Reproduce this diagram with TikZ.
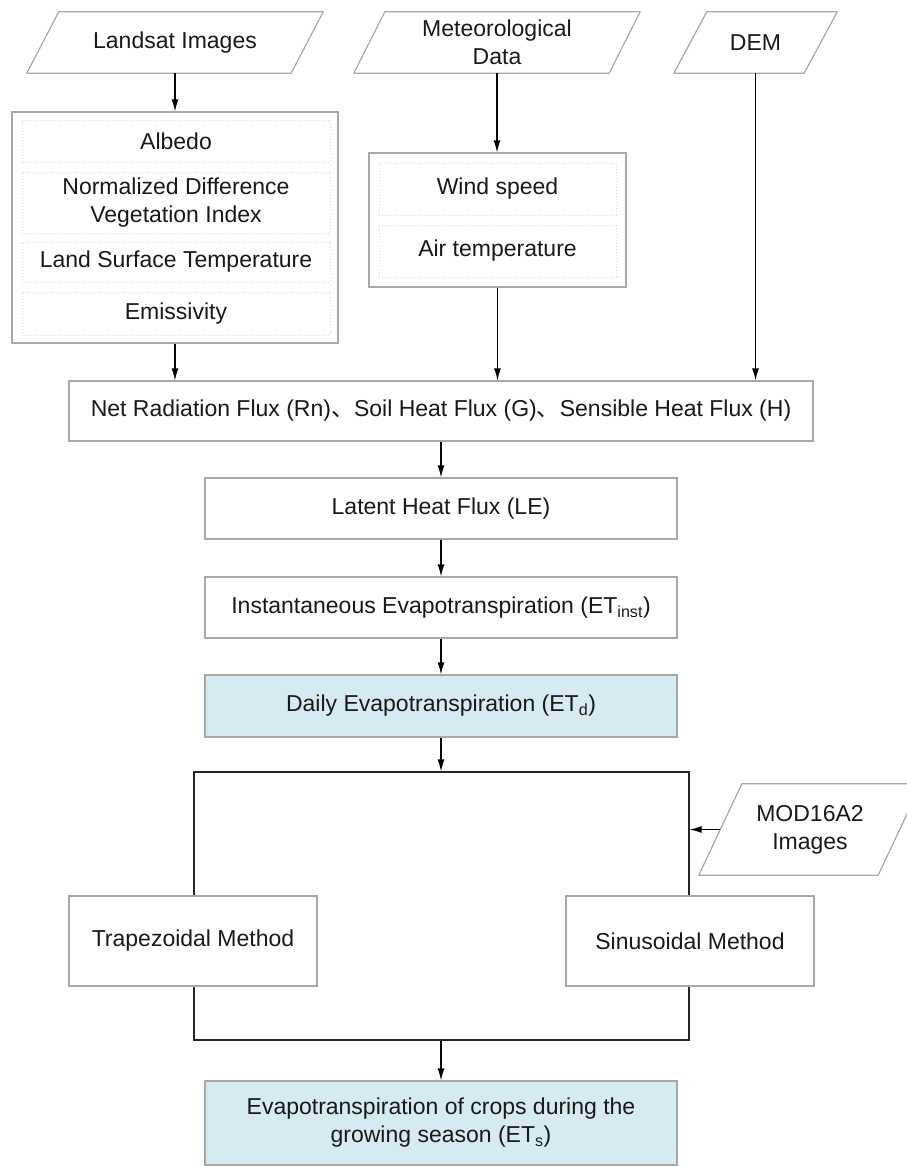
\documentclass[tikz,border=0pt]{standalone}
\usepackage{fontspec}
\setmainfont{Liberation Sans}
\newfontfamily\cjkfont{Noto Sans CJK SC}
\usetikzlibrary{arrows.meta}

\definecolor{boxgray}{RGB}{168,168,168}
\definecolor{subgray}{RGB}{218,218,218}
\definecolor{etblue}{RGB}{213,235,241}
\definecolor{inkblack}{RGB}{25,25,25}

\newcommand{\dunhao}{{\cjkfont 、}}

\tikzset{
    box/.style={draw=boxgray, line width=1.2pt, fill=white, text=inkblack, align=center, inner sep=0pt},
    etbox/.style={box, fill=etblue},
    subbox/.style={draw=subgray, dotted, line width=1pt, text=inkblack, align=center, inner sep=0pt},
    databox/.style={text=inkblack, align=center, inner sep=0pt},
    slanted/.style={draw=boxgray, line width=1.2pt, line join=round},
    flow/.style={-{Latex[length=12pt,width=7pt]}, line width=1.2pt, black},
}

\begin{document}
\begin{tikzpicture}[x=1pt, y=-1pt, font=\fontsize{23}{28}\selectfont]
        \useasboundingbox (0,0) rectangle (907,1167);

        % Input data (the slanted outlines are drawn round these nodes below):
        \node[databox, minimum width=264pt, minimum height=61pt] (land) at (175,42.5) {Landsat Images};
        \node[databox, minimum width=255pt, minimum height=61pt] (met)  at (497,42.5) {Meteorological\\Data};
        \node[databox, minimum width=130pt, minimum height=61pt] (dem)  at (755.5,42.5) {DEM};
        \node[databox, minimum width=179pt, minimum height=91pt] (modis) at (810,829.5) {MOD16A2\\Images};
        \foreach \n/\s in {land/16, met/15.5, dem/16.5, modis/21.5}{%
            \draw[slanted] ([xshift=-\s pt]\n.south west) -- ([xshift=-\s pt]\n.south east)
                -- ([xshift=\s pt]\n.north east) -- ([xshift=\s pt]\n.north west) -- cycle;
        }

        % Parameters from the Landsat images:
        \node[box, minimum width=326pt, minimum height=231pt] (landpar) at (175,227.5) {};
        \node[subbox, minimum width=308pt, minimum height=42pt] (albedo) at (176,141)   {Albedo};
        \node[subbox, minimum width=308pt, minimum height=61pt] (ndvi)   at (176,202.5) {Normalized Difference\\Vegetation Index};
        \node[subbox, minimum width=308pt, minimum height=40pt] (lst)    at (176,262)   {Land Surface Temperature};
        \node[subbox, minimum width=308pt, minimum height=43pt] (emis)   at (176,313.5) {Emissivity};

        % Parameters from the meteorological data:
        \node[box, minimum width=257pt, minimum height=134pt] (metpar) at (497.5,220) {};
        \node[subbox, minimum width=237pt, minimum height=52pt] (wind) at (497.5,189) {Wind speed};
        \node[subbox, minimum width=237pt, minimum height=52pt] (air)  at (497.5,251) {Air temperature};

        % Energy balance:
        \node[box, minimum width=744pt, minimum height=60pt] (flux) at (441,411)
            {Net Radiation Flux (Rn)\dunhao Soil Heat Flux (G)\dunhao Sensible Heat Flux (H)};
        \node[box, minimum width=472pt, minimum height=61pt] (latent) at (441,508.5) {Latent Heat Flux (LE)};
        \node[box, minimum width=472pt, minimum height=61pt] (inst)   at (441,607.5)
            {Instantaneous Evapotranspiration (ET\textsubscript{inst})};
        \node[etbox, minimum width=472pt, minimum height=62pt] (daily) at (441,706)
            {Daily Evapotranspiration (ET\textsubscript{d})};

        % Upscaling to the season:
        \node[draw=black!85, line width=1.2pt, minimum width=495pt, minimum height=268pt, inner sep=0pt] (season) at (441.5,906) {};
        \node[box, minimum width=248pt, minimum height=90pt] (trap) at (193,941) {Trapezoidal Method};
        \node[box, minimum width=248pt, minimum height=90pt] (sinus) at (690,941) {Sinusoidal Method};
        \node[etbox, minimum width=472pt, minimum height=84pt] (ets) at (441,1123)
            {Evapotranspiration of crops during the\\growing season (ET\textsubscript{s})};

        % Connectors:
        \draw[flow] (land.south) -- (land.south |- landpar.north);
        \draw[flow] (met.south) -- (met.south |- metpar.north);
        \draw[flow] (landpar.south) -- (landpar.south |- flux.north);
        \draw[flow] (metpar.south) -- (metpar.south |- flux.north);
        \draw[flow] (dem.south) -- (dem.south |- flux.north);
        \foreach \a/\b in {flux/latent, latent/inst, inst/daily}{%
            \draw[flow] (\a.south) -- (\b.north);
        }
        \draw[flow] (daily.south) -- (daily.south |- season.north);
        \draw[flow] (modis.west) -- (modis.west -| season.east);
        \draw[flow] (season.south -| ets.north) -- (ets.north);
\end{tikzpicture}
\end{document}
